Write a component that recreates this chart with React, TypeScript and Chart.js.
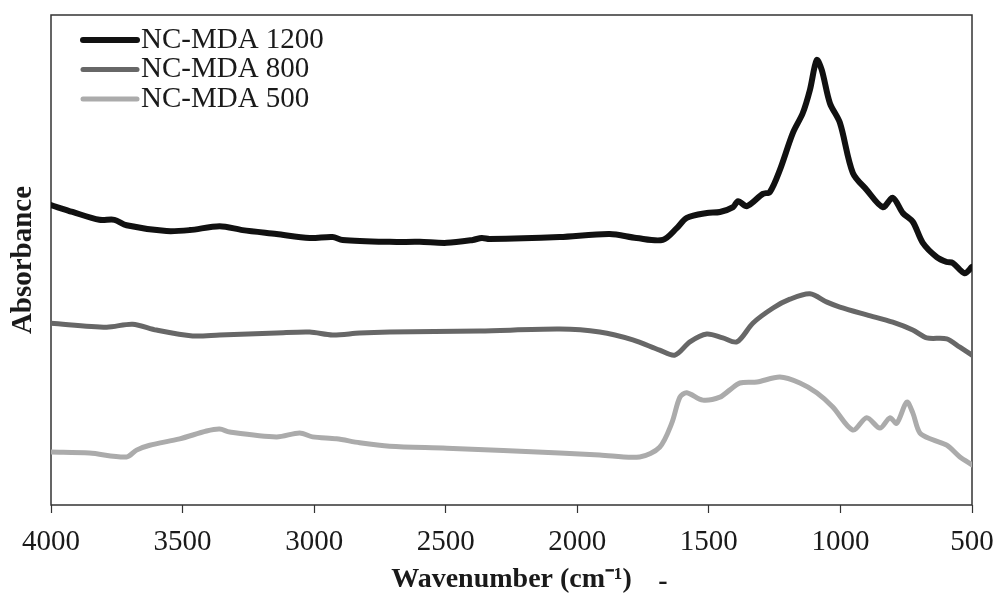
import React, { useEffect, useRef } from "react";
import { Chart, registerables } from "chart.js";

Chart.register(...registerables);

const SERIF = "'Liberation Serif', 'Times New Roman', Times, serif";

// Axis ticks (cm-1)
const xTicks = [4000, 3500, 3000, 2500, 2000, 1500, 1000, 500];

// Series labels and styling
const seriesLabels = ["NC-MDA 1200", "NC-MDA 800", "NC-MDA 500"];
const seriesColors = ["#111111", "#676767", "#ababab"];
const seriesWidths = [6, 5, 5];

// NC-MDA 1200 spectrum
const nc1200Wn = [4000, 3918, 3816, 3759, 3713, 3561, 3473, 3359, 3272, 3143, 3017, 2930, 2892, 2713, 2599, 2496, 2397, 2363, 2333, 2067, 1877, 1775, 1675, 1622, 1584, 1508, 1458, 1408, 1389, 1355, 1295, 1268, 1230, 1181, 1143, 1116, 1090, 1071, 1040, 1002, 953, 900, 839, 801, 763, 725, 687, 634, 596, 573, 528, 500];
const nc1200Abs = [61.2, 59.8, 58.2, 58.2, 57.1, 55.9, 56.1, 56.9, 56.1, 55.3, 54.5, 54.7, 54.1, 53.7, 53.7, 53.5, 54.1, 54.5, 54.3, 54.7, 55.3, 54.5, 54.1, 56.5, 58.6, 59.6, 59.8, 60.8, 62.0, 61.0, 63.5, 63.9, 68.4, 75.9, 80.0, 84.7, 90.8, 88.8, 82.0, 78.0, 67.8, 64.3, 60.8, 62.7, 59.6, 57.8, 53.5, 50.6, 49.6, 49.4, 47.3, 48.6];

// NC-MDA 800 spectrum
const nc800Wn = [4000, 3789, 3690, 3599, 3462, 3359, 3143, 3017, 2930, 2827, 2713, 2371, 2067, 1915, 1789, 1687, 1629, 1572, 1508, 1447, 1393, 1333, 1256, 1192, 1116, 1051, 1002, 900, 801, 725, 672, 596, 546, 500];
const nc800Abs = [37.1, 36.3, 36.9, 35.7, 34.5, 34.7, 35.1, 35.3, 34.7, 35.1, 35.3, 35.5, 35.9, 35.3, 33.7, 31.6, 30.6, 33.3, 34.9, 34.1, 33.3, 37.1, 40.2, 42.0, 43.1, 41.4, 40.4, 38.8, 37.3, 35.7, 34.1, 33.9, 32.2, 30.6];

// NC-MDA 500 spectrum
const nc500Wn = [4000, 3854, 3713, 3675, 3625, 3511, 3409, 3359, 3321, 3143, 3055, 3006, 2915, 2827, 2713, 2496, 2067, 1915, 1763, 1687, 1641, 1610, 1584, 1523, 1458, 1420, 1382, 1317, 1230, 1154, 1090, 1029, 953, 900, 850, 812, 786, 748, 725, 698, 649, 596, 546, 500];
const nc500Abs = [10.8, 10.6, 9.8, 11.2, 12.2, 13.5, 15.1, 15.5, 14.9, 13.9, 14.7, 13.9, 13.5, 12.7, 12.0, 11.6, 10.6, 10.2, 9.8, 11.8, 16.7, 22.0, 22.9, 21.4, 22.0, 23.5, 24.9, 25.1, 26.1, 24.9, 22.9, 20.0, 15.3, 17.8, 15.7, 17.8, 16.7, 21.0, 18.8, 14.7, 13.3, 12.2, 9.8, 8.2];

const toPoints = (xs: number[], ys: number[]) => xs.map((x, i) => ({ x, y: ys[i] }));

// Box around the plotting area
const framePlugin = {
  id: "frame",
  beforeDatasetsDraw(chart: any) {
    const { ctx, chartArea } = chart;
    ctx.save();
    ctx.strokeStyle = "#333";
    ctx.lineWidth = 1.5;
    ctx.strokeRect(chartArea.left, chartArea.top, chartArea.right - chartArea.left, chartArea.bottom - chartArea.top);
    ctx.restore();
  },
};

// Line-sample legend inside the top-left corner of the plot
const insetLegendPlugin = {
  id: "insetLegend",
  afterDatasetsDraw(chart: any) {
    const { ctx, chartArea } = chart;
    ctx.save();
    ctx.font = `29px ${SERIF}`;
    ctx.textBaseline = "middle";
    ctx.textAlign = "left";
    chart.data.datasets.forEach((ds: any, i: number) => {
      const y = chartArea.top + 25 + i * 29.5;
      const x0 = chartArea.left + 32;
      ctx.strokeStyle = ds.borderColor;
      ctx.lineWidth = ds.borderWidth;
      ctx.lineCap = "round";
      ctx.beginPath();
      ctx.moveTo(x0, y);
      ctx.lineTo(x0 + 54, y);
      ctx.stroke();
      ctx.fillStyle = "#1a1a1a";
      ctx.fillText(ds.label, x0 + 58, y);
    });
    ctx.restore();
  },
};

// Trailing dash after the x-axis title
const titleDashPlugin = {
  id: "titleDash",
  afterDraw(chart: any) {
    const { ctx, chartArea } = chart;
    ctx.save();
    ctx.font = `bold 28px ${SERIF}`;
    ctx.fillStyle = "#1a1a1a";
    ctx.textBaseline = "middle";
    ctx.textAlign = "center";
    ctx.fillText("-", chartArea.left + 612, chartArea.bottom + 77);
    ctx.restore();
  },
};

export default function App() {
  const canvasRef = useRef<HTMLCanvasElement | null>(null);

  useEffect(() => {
    document.body.style.margin = "0";
    const canvas = canvasRef.current;
    if (!canvas) return;

    const seriesData = [
      toPoints(nc1200Wn, nc1200Abs),
      toPoints(nc800Wn, nc800Abs),
      toPoints(nc500Wn, nc500Abs),
    ];

    const chart = new Chart(canvas, {
      type: "line",
      data: {
        datasets: seriesLabels.map((label, i) => ({
          label,
          data: seriesData[i],
          borderColor: seriesColors[i],
          backgroundColor: seriesColors[i],
          borderWidth: seriesWidths[i],
          pointRadius: 0,
          tension: 0.3,
          fill: false,
          borderCapStyle: "round",
          borderJoinStyle: "round",
        })),
      },
      options: {
        animation: false,
        responsive: false,
        maintainAspectRatio: false,
        layout: { padding: { top: 15, right: 26, left: 0, bottom: 0 } },
        plugins: {
          legend: { display: false },
          tooltip: { enabled: false },
        },
        scales: {
          x: {
            type: "linear",
            reverse: true,
            min: 500,
            max: 4000,
            afterFit: (scale: any) => {
              scale.height = 92;
              scale.paddingLeft = 0;
              scale.paddingRight = 0;
            },
            afterBuildTicks: (scale: any) => {
              scale.ticks = xTicks.map((v) => ({ value: v }));
            },
            border: { display: false },
            grid: {
              display: true,
              drawOnChartArea: false,
              drawTicks: true,
              tickLength: 8,
              tickColor: "#333",
              tickWidth: 1.2,
            },
            ticks: {
              color: "#1a1a1a",
              font: { family: SERIF, size: 29 },
              padding: 12,
              maxRotation: 0,
              autoSkip: false,
              callback: (v: any) => String(v),
            },
            title: {
              display: true,
              text: "Wavenumber (cm⁻¹)",
              color: "#1a1a1a",
              font: { family: SERIF, size: 28, weight: "bold" },
              padding: { top: 0, bottom: 0 },
            },
          },
          y: {
            type: "linear",
            min: 0,
            max: 100,
            afterFit: (scale: any) => {
              scale.width = 51;
            },
            border: { display: false },
            grid: { display: false },
            ticks: { display: false },
            title: {
              display: true,
              text: "Absorbance",
              color: "#1a1a1a",
              font: { family: SERIF, size: 29, weight: "bold" },
              padding: { top: 6, bottom: 0 },
            },
          },
        },
      },
      plugins: [framePlugin, insetLegendPlugin, titleDashPlugin],
    });

    return () => chart.destroy();
  }, []);

  return (
    <div style={{ width: 998, height: 597, background: "#fff" }}>
      <canvas ref={canvasRef} width={998} height={597} style={{ display: "block" }} />
    </div>
  );
}
